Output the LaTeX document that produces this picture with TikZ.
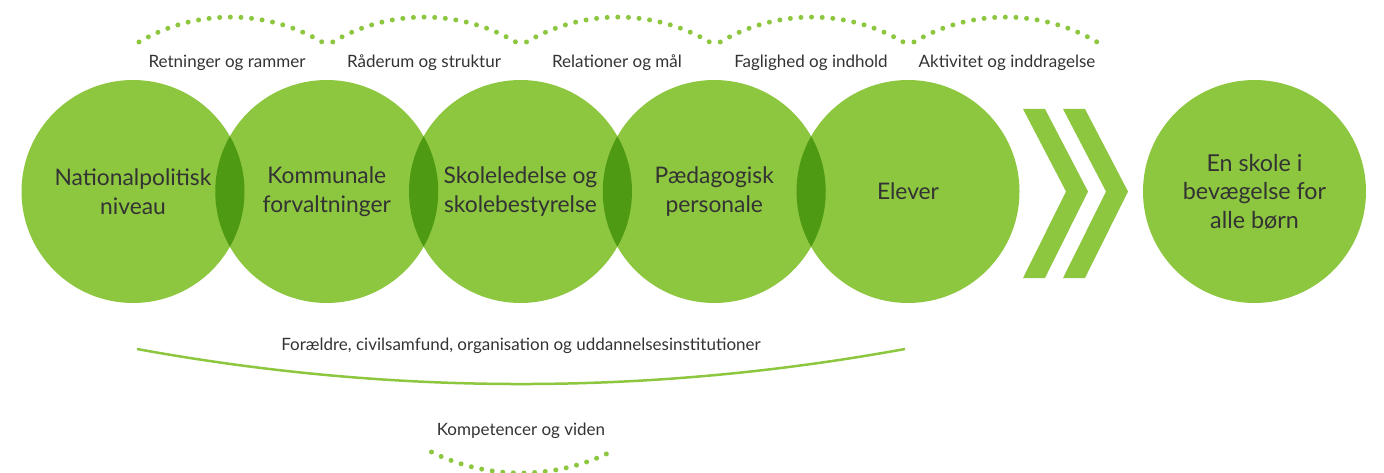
\documentclass[tikz,border=0pt]{standalone}
\usepackage{fontspec}
\setmainfont{Lato}
\usetikzlibrary{positioning}
\definecolor{leafgreen}{HTML}{8DC63F}
\definecolor{lensgreen}{HTML}{4E9A12}
\definecolor{inkgrey}{HTML}{333333}

\begin{document}
\begin{tikzpicture}[x=1pt, y=-1pt,
                    bubble/.style={circle, fill=leafgreen, minimum size=223pt, inner sep=0pt, outer sep=0pt, align=center, text=inkgrey, font=\fontsize{22.8}{29}\selectfont},
                    caption/.style={text=inkgrey, font=\fontsize{17}{20}\selectfont},
                    dotarc/.style={leafgreen, line width=5pt, line cap=round, dash pattern=on 0pt off 10.64pt},]
    \useasboundingbox (0,0) rectangle (1384,473);
    % circles
    \node[bubble]      (nat)                              at (133,191.5)      {Nationalpolitisk\\niveau};
    \node[bubble]      (kom)       [right=-29.25pt of nat]       {Kommunale\\forvaltninger};
    \node[bubble]      (sko)       [right=-29.25pt of kom]       {Skoleledelse og\\skolebestyrelse};
    \node[bubble]      (paed)      [right=-29.25pt of sko]       {Pædagogisk\\personale};
    \node[bubble]      (elev)      [right=-29.25pt of paed]      {Elever};
    \node[bubble, font=\fontsize{23.3}{28.5}\selectfont] (goal) at (1254.5,191.5) {En skole i\\bevægelse for\\alle børn};
    % overlaps
    \foreach \a/\b in {nat/kom, kom/sko, sko/paed, paed/elev} {
        \begin{scope}
            \clip (\a.center) circle[radius=111.5pt];
            \fill[lensgreen] (\b.center) circle[radius=111.5pt];
        \end{scope}
    }
    % chevrons
    \foreach \s in {0,40} {
        \fill[leafgreen, xshift=\s pt] (1023,109) -- (1045,109) -- (1088,191.5) -- (1045,278) -- (1023,278) -- (1066,191.5) -- cycle;
    }
    % dotted arcs and captions
    \foreach \x in {230.5, 424.25, 618, 811.75, 1005.5} {
        \draw[dotarc] (\x-91.5,42) .. controls (\x-35,8.8) and (\x+35,8.8) .. (\x+91.5,42);
    }
    \node[caption] (retn)  at (227,63)    {Retninger og rammer};
    \node[caption] (raad)  at (424,63)    {Råderum og struktur};
    \node[caption] (rela)  at (617,63)    {Relationer og mål};
    \node[caption] (fagl)  at (811,63)    {Faglighed og indhold};
    \node[caption] (akti)  at (1007,63)   {Aktivitet og inddragelse};
    % lower part
    \draw[leafgreen, line width=2.5pt] (137,349) .. controls (393,395.7) and (649,395.7) .. (905,349);
    \node[caption] (fora)  at (521,346)   {Forældre, civilsamfund, organisation og uddannelsesinstitutioner};
    \node[caption] (komp)  at (521,431)   {Kompetencer og viden};
    \draw[dotarc] (431.5,452) .. controls (488,480) and (554,480) .. (610.5,452);
\end{tikzpicture}
\end{document}
